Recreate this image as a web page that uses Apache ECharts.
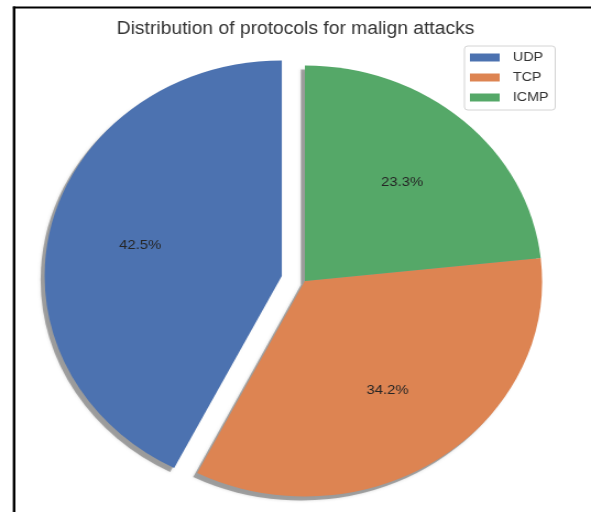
<!DOCTYPE html>
<html>
<head>
<meta charset="utf-8">
<script src="https://cdn.jsdelivr.net/npm/echarts@6/dist/echarts.min.js"></script>
<style>
  html, body { margin: 0; padding: 0; background: #fff; overflow: hidden; }
  #stage { width: 591px; height: 512px; overflow: hidden; position: relative; }
  /* the figure is drawn a little narrower and widened to fill the page */
  #chart { width: 537px; height: 512px; transform: scaleX(1.10056); transform-origin: 0 0; }
</style>
</head>
<body>
<div id="stage"><div id="chart"></div></div>
<script>
// protocol shares of malign attacks (percent)
const protocols = ['UDP', 'TCP', 'ICMP'];
const shares = [42.5, 34.2, 23.3];
const sliceColors = ['#4C72B0', '#DD8452', '#55A868'];
const explodedSlice = 'UDP';
const chartTitle = 'Distribution of protocols for malign attacks';

const FONT = '"Liberation Sans", Arial, sans-serif';
const CX = 277, CY = 281, R = 215.5;
const EXPLODE = 0.1 * R;

function sliceData(withColors) {
  return protocols.map((name, i) => ({
    name: name,
    value: shares[i],
    selected: name === explodedSlice,
    itemStyle: withColors ? { color: sliceColors[i] } : undefined
  }));
}

const common = {
  type: 'pie',
  startAngle: 90,
  clockwise: false,
  selectedMode: 'single',
  selectedOffset: EXPLODE,
  avoidLabelOverlap: false,
  labelLine: { show: false },
  emphasis: { disabled: true },
  animation: false
};

const chart = echarts.init(document.getElementById('chart'), null, { renderer: 'canvas' });
chart.setOption({
  backgroundColor: '#fff',
  animation: false,
  title: {
    text: chartTitle,
    left: 'center',
    top: 15,
    textStyle: { fontFamily: FONT, fontSize: 17.5, fontWeight: 'normal', color: '#333333' }
  },
  legend: {
    orient: 'vertical',
    left: 422,
    top: 46,
    padding: [5, 6, 6, 5],
    itemWidth: 27,
    itemHeight: 8,
    itemGap: 7,
    icon: 'rect',
    borderColor: '#d4d4d4',
    borderWidth: 1,
    borderRadius: 3,
    backgroundColor: 'rgba(255,255,255,0.8)',
    selectedMode: false,
    data: protocols.map((name, i) => ({ name: name, itemStyle: { color: sliceColors[i] } })),
    textStyle: { fontFamily: FONT, fontSize: 13, color: '#333333', padding: [0, 0, 0, 7] }
  },
  graphic: [
    { type: 'line', shape: { x1: 11.8, y1: 7.5, x2: 540, y2: 7.5 }, style: { stroke: '#000', lineWidth: 2 } },
    { type: 'line', shape: { x1: 12.8, y1: 6.5, x2: 12.8, y2: 512 }, style: { stroke: '#000', lineWidth: 2.4 } }
  ],
  series: [
    // coloured wedges
    Object.assign({}, common, {
      name: 'protocols',
      z: 2,
      center: [CX, CY],
      radius: [0, R],
      label: { show: false },
      itemStyle: { borderWidth: 0 },
      data: sliceData(true)
    }),
    // drop shadow under the wedges
    Object.assign({}, common, {
      name: 'shadow',
      z: 1,
      silent: true,
      center: [CX - 4 / 1.10056, CY + 4],
      radius: [0, R],
      label: { show: false },
      itemStyle: {
        color: 'rgba(120,120,120,0.62)',
        borderWidth: 0,
        shadowBlur: 3,
        shadowColor: 'rgba(120,120,120,0.5)'
      },
      data: sliceData(false)
    }),
    // percentage labels placed at 0.6 of the radius
    Object.assign({}, common, {
      name: 'labels',
      z: 3,
      silent: true,
      center: [CX, CY],
      radius: [0.2 * R, R],
      itemStyle: { color: 'rgba(0,0,0,0)', borderWidth: 0 },
      label: {
        show: true,
        position: 'inside',
        formatter: '{d}%',
        fontFamily: FONT,
        fontSize: 13.5,
        color: '#262626'
      },
      percentPrecision: 1,
      data: sliceData(false)
    })
  ]
});
</script>
</body>
</html>
